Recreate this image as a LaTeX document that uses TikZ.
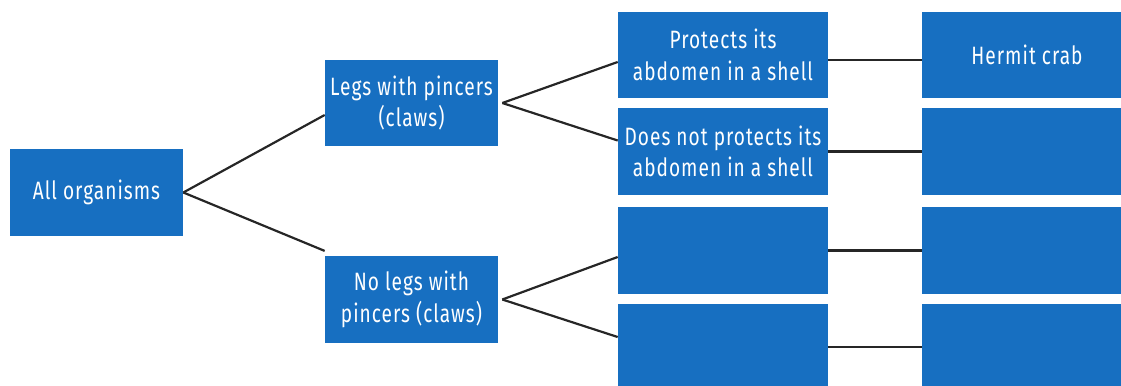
\documentclass[tikz,border=0pt]{standalone}
\usepackage{fontspec}
\setmainfont{Fira Sans}[FakeStretch=0.76, LetterSpace=4]
\definecolor{ckblue}{HTML}{176FC1}
\definecolor{ckline}{HTML}{262626}

\tikzset{
  ckbox/.style={fill=ckblue, text=white, inner sep=0pt, align=center,
    minimum height=1.73cm, font=\fontsize{14.3}{18}\selectfont},
  ckmid/.style={ckbox, minimum width=3.46cm},
  ckwide/.style={ckbox, minimum width=4.2cm},
  ckedge/.style={draw=ckline, line width=1.25pt}
}

\begin{document}
\begin{tikzpicture}[x=0.02cm, y=-0.02cm]
\useasboundingbox (0,0) rectangle (1121,385);
\clip (0,0) rectangle (1121,385);

\node[ckmid] (all) at (96.5,192.5) {All organisms};

\node[ckmid] (legs) at (411.5,103) {Legs with pincers\\(claws)};
\node[ckmid] (nolegs) at (411.5,299.5) {No legs with\\pincers (claws)};

\node[ckwide] (shell) at (723,55) {Protects its\\abdomen in a shell};
\node[ckwide] (noshell) at (723,151.5) {Does not protects its\\abdomen in a shell};
\node[ckwide] (c3) at (723,250.5) {};
\node[ckwide] (c4) at (723,347) {};

\node[ckwide] (crab) at (1027,55) {Hermit crab};
\node[ckwide] (d2) at (1027,151.5) {};
\node[ckwide] (d3) at (1027,250.5) {};
\node[ckwide] (d4) at (1027,347) {};

\draw[ckedge] (all.east) -- ([yshift=-0.24cm]legs.west);
\draw[ckedge] (all.east) -- ([yshift=0.1cm]nolegs.north west);

\draw[ckedge] ([xshift=0.08cm]legs.east) -- ([yshift=-0.14cm]shell.west);
\draw[ckedge] ([xshift=0.08cm]legs.east) -- ([yshift=0.22cm]noshell.west);
\draw[ckedge] ([xshift=0.08cm]nolegs.east) -- ([yshift=-0.13cm]c3.west);
\draw[ckedge] ([xshift=0.08cm]nolegs.east) -- ([yshift=0.2cm]c4.west);

\draw[ckedge] ([yshift=-0.1cm]shell.east) -- ([yshift=-0.1cm]crab.west);
\draw[ckedge] (noshell.east) -- (d2.west);
\draw[ckedge] (c3.east) -- (d3.west);
\draw[ckedge] (c4.east) -- (d4.west);
\end{tikzpicture}
\end{document}
